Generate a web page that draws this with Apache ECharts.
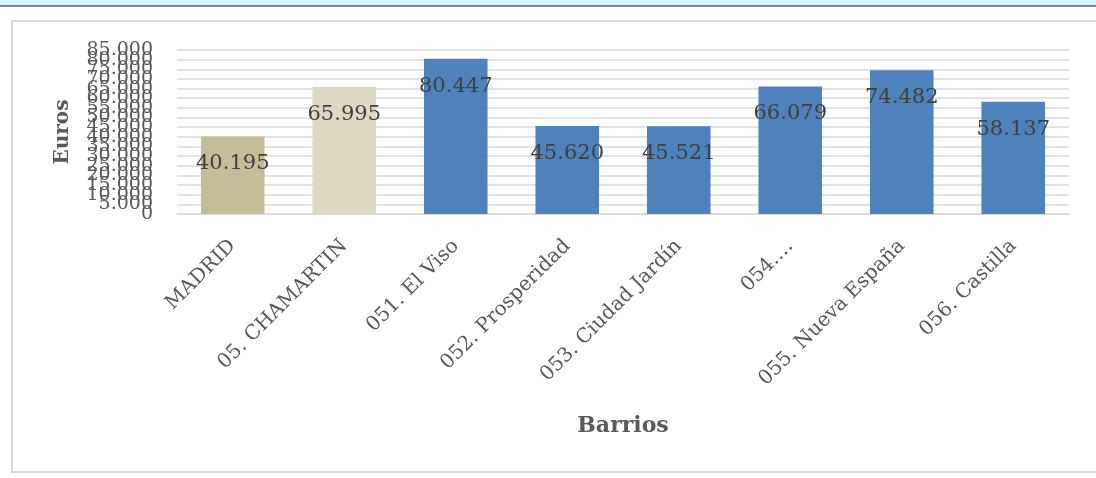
<!DOCTYPE html>
<html>
<head>
<meta charset="utf-8">
<script src="https://cdn.jsdelivr.net/npm/echarts@6/dist/echarts.min.js"></script>
<style>
  html, body { margin: 0; padding: 0; background: #ffffff; overflow: hidden; }
  #band { position: absolute; left: 0; top: 0; width: 1096px; height: 5px; background: #d5f7fd; border-bottom: 2px solid #858585; }
  #box { position: absolute; left: 11px; top: 20px; width: 1100px; height: 449px; border: 2px solid #d9d9d9; box-sizing: content-box; }
  #chart { position: absolute; left: 0; top: 0; width: 1096px; height: 478px; }
</style>
</head>
<body>
<div id="band"></div>
<div id="box"></div>
<div id="chart"></div>
<script>
const categories = ['MADRID', '05. CHAMARTIN', '051. El Viso', '052. Prosperidad', '053. Ciudad Jardín', '054.…', '055. Nueva España', '056. Castilla'];
const values = [40195, 65995, 80447, 45620, 45521, 66079, 74482, 58137];
const yTicks = { min: 0, max: 85000, step: 5000 };

const barColors = ['#c4bd97', '#ddd9c3', '#4f81bd'];
const serif = 'DejaVu Serif';

function fmt(v) {
  return String(v).replace(/\B(?=(\d{3})+(?!\d))/g, '.');
}
// Split tick labels across two overlaid axes so ECharts does not drop overlapping ones
function fmtEven(v) { return (Math.round(v / yTicks.step) % 2 === 0) ? fmt(v) : ''; }
function fmtOdd(v) { return (Math.round(v / yTicks.step) % 2 === 1) ? fmt(v) : ''; }

function yAxisDef(formatter, primary) {
  return {
    type: 'value',
    position: 'left',
    min: yTicks.min,
    max: yTicks.max,
    interval: yTicks.step,
    name: primary ? 'Euros' : '',
    nameLocation: 'middle',
    nameGap: 104,
    nameTextStyle: { fontFamily: serif, fontSize: 20, fontWeight: 'bold', color: '#595959' },
    axisLine: { show: false },
    axisTick: { show: false },
    axisLabel: { margin: 24, showMinLabel: true, showMaxLabel: true, hideOverlap: false, fontFamily: serif, fontSize: 19, color: '#595959', formatter: formatter },
    splitLine: { show: primary, lineStyle: { color: '#d9d9d9', width: 1.5 } }
  };
}

const chart = echarts.init(document.getElementById('chart'), null, { renderer: 'canvas' });
chart.setOption({
  animation: false,
  backgroundColor: 'transparent',
  grid: { left: 177, right: 27, top: 50, bottom: 264, containLabel: false },
  xAxis: {
    type: 'category',
    data: categories,
    name: 'Barrios',
    nameLocation: 'middle',
    nameGap: 201,
    nameTextStyle: { fontFamily: serif, fontSize: 22, fontWeight: 'bold', color: '#595959' },
    axisLine: { show: true, lineStyle: { color: '#d9d9d9', width: 1.5 } },
    axisTick: { show: false },
    axisLabel: { rotate: 45, margin: 29, interval: 0, hideOverlap: false, fontFamily: serif, fontSize: 20, color: '#595959' }
  },
  yAxis: [yAxisDef(fmtEven, true), yAxisDef(fmtOdd, false)],
  series: [{
    type: 'bar',
    yAxisIndex: 0,
    data: values,
    barWidth: '57%',
    itemStyle: {
      color: function (p) { return p.dataIndex === 0 ? barColors[0] : (p.dataIndex === 1 ? barColors[1] : barColors[2]); }
    },
    label: {
      show: true,
      position: 'insideTop',
      distance: 17,
      fontFamily: serif,
      fontSize: 21,
      color: '#404040',
      formatter: function (p) { return fmt(p.value); }
    }
  }]
});
</script>
</body>
</html>
